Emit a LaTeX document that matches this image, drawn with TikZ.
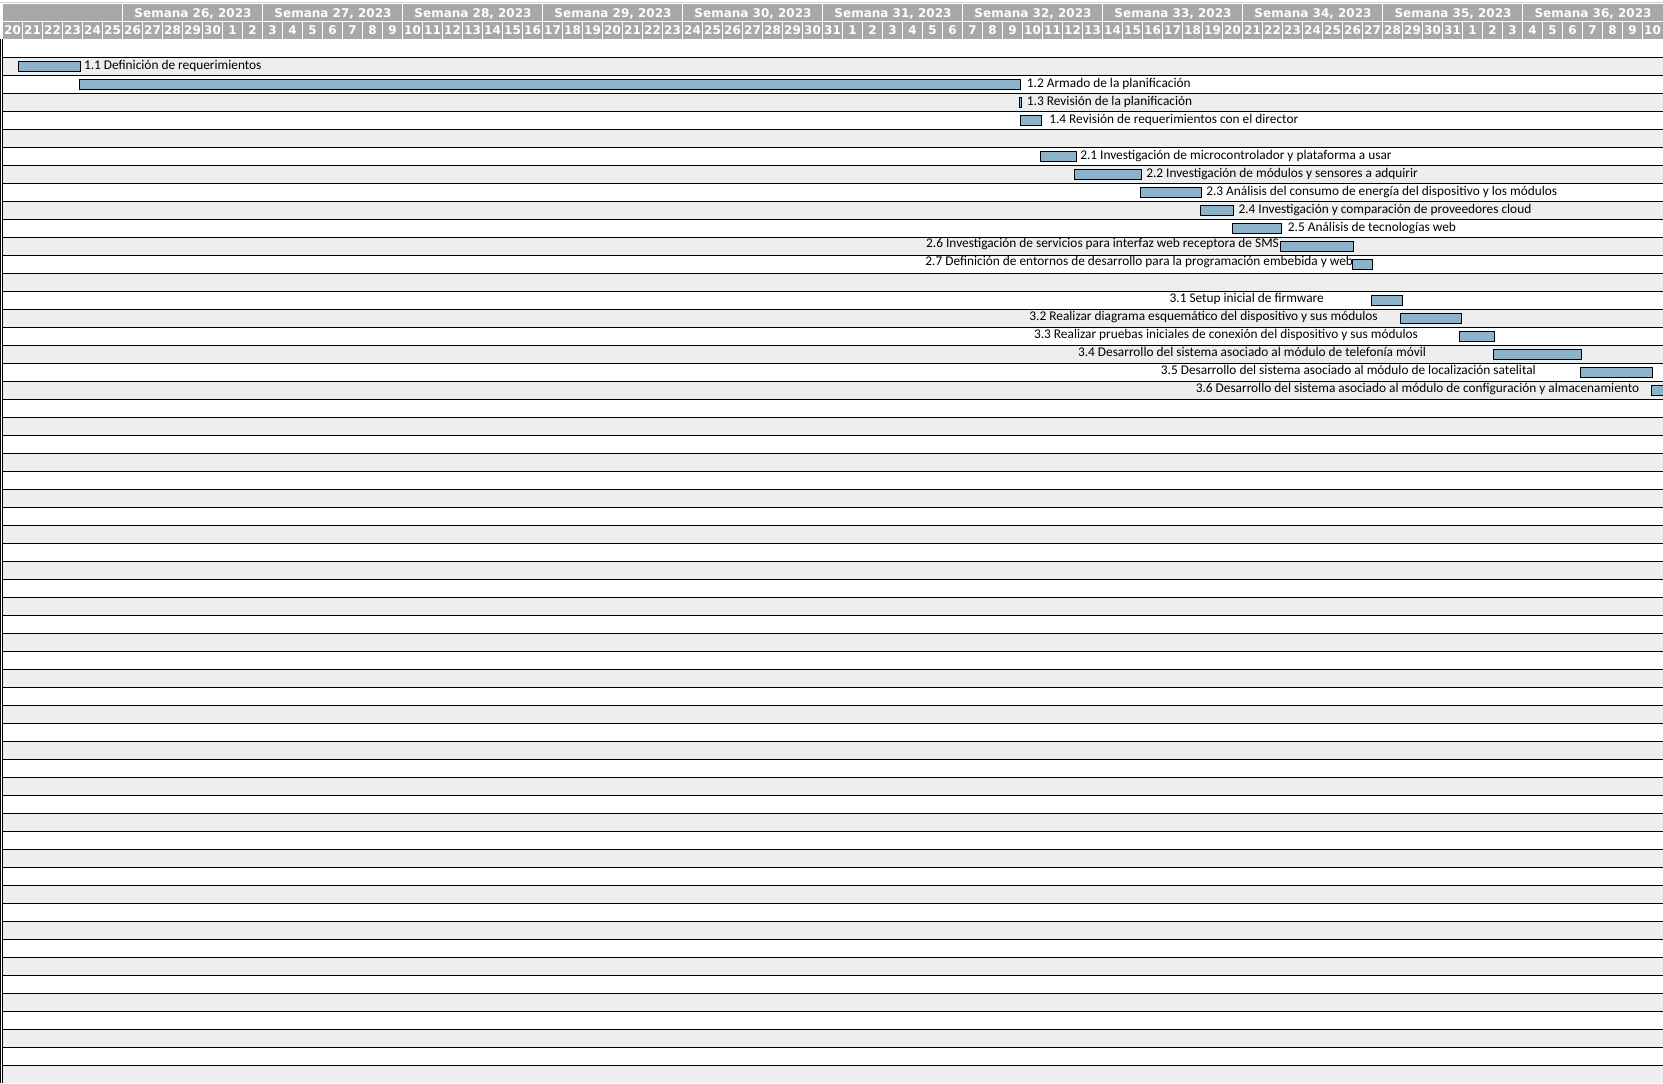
\documentclass[tikz,border=0pt]{standalone}
\usepackage{fontspec}
\setmainfont{Carlito}
\newfontfamily\hdrfont{DejaVu Sans}
\definecolor{rowgray}{HTML}{EEEEEE}
\definecolor{hdrgray}{HTML}{A8A8A8}
\definecolor{toprule}{HTML}{CFCFCF}
\definecolor{barblue}{HTML}{8DB3CB}
\tikzset{
  rowline/.style={draw=black, line width=0.75pt},
  edgeline/.style={draw=black, line width=0.75pt},
  sepline/.style={draw=white, line width=0.8pt},
  wksep/.style={draw=white, line width=1.1pt},
  taskfill/.style={fill=barblue, draw=black, line width=0.75pt},
  lbl/.style={inner sep=0pt, font=\fontsize{10pt}{12pt}\selectfont, text=black},
  daylbl/.style={inner sep=0pt, anchor=base, text=white,
    font=\hdrfont\bfseries\fontsize{9pt}{10pt}\selectfont},
  wklbl/.style={inner sep=0pt, anchor=base, text=white,
    font=\hdrfont\bfseries\fontsize{9pt}{10pt}\selectfont},
}
% one task bar in row #1, from x=#2 to x=#3 (pixel units)
\newcommand\taskbar[3]{%
  \path[taskfill] (#2,{61.3+18*#1}) rectangle (#3,{71.3+18*#1});}
\begin{document}
\begin{tikzpicture}[x=0.75pt,y=-0.75pt]
\useasboundingbox (0,0) rectangle (1663,1083);
\clip (0,0) rectangle (1663,1083);

% alternating row background
\foreach \j in {1,3,...,57}
  \fill[rowgray] (3,{39.3+18*\j}) rectangle (1663,{57.3+18*\j});
% row separators
\foreach \k in {0,...,56}
  \draw[rowline] (3,{57.3+18*\k}) -- (1663,{57.3+18*\k});
% double rule on the left edge
\draw[edgeline] (0.4,39) -- (0.4,1083);
\draw[edgeline] (2.5,39) -- (2.5,1083);

% header
\draw[toprule, line width=0.6pt] (0,2.3) -- (1663,2.3);
\fill[hdrgray] (3,4) rectangle (1663,20.5);
\fill[hdrgray] (3,22) rectangle (1663,39);
\foreach \d in {6,13,...,76}
  \draw[wksep] ({2.5+20*\d},4) -- ({2.5+20*\d},20.5);
\foreach \i in {1,...,82}
  \draw[sepline] ({2.5+20*\i},22) -- ({2.5+20*\i},39);
\foreach \w [count=\c from 0] in {26,...,36}
  \node[wklbl] (wk\w) at ({193+140*\c},17) {Semana \w, 2023};
\foreach \n in {20,...,30}
  \node[daylbl] (jun\n) at ({12.5+20*(\n-20)},34.8) {\n};
\foreach \n in {1,...,31}
  \node[daylbl] (jul\n) at ({12.5+20*(10+\n)},34.8) {\n};
\foreach \n in {1,...,31}
  \node[daylbl] (aug\n) at ({12.5+20*(41+\n)},34.8) {\n};
\foreach \n in {1,...,10}
  \node[daylbl] (sep\n) at ({12.5+20*(72+\n)},34.8) {\n};

% task bars
\taskbar{0}{18.3}{80}
\taskbar{1}{79.3}{1020.3}
\taskbar{2}{1019.5}{1021.7}
\taskbar{3}{1020.5}{1041.5}
\taskbar{5}{1040}{1076}
\taskbar{6}{1074}{1141.7}
\taskbar{7}{1140.7}{1201.7}
\taskbar{8}{1200}{1233.3}
\taskbar{9}{1232.3}{1281}
\taskbar{10}{1280}{1353.3}
\taskbar{11}{1352.7}{1372.7}
\taskbar{13}{1371}{1402.2}
\taskbar{14}{1400.2}{1461}
\taskbar{15}{1459.6}{1494.6}
\taskbar{16}{1493.2}{1581.3}
\taskbar{17}{1580.3}{1652.8}
\taskbar{18}{1651.8}{1670}

% task labels
\node[lbl, anchor=base west] (t11) at (83.8,69.3) {1.1 Definición de requerimientos};
\node[lbl, anchor=base west] (t12) at (1026.7,87.3) {1.2 Armado de la planificación};
\node[lbl, anchor=base west] (t13) at (1026.7,105.3) {1.3 Revisión de la planificación};
\node[lbl, anchor=base west] (t14) at (1049,123.3) {1.4 Revisión de requerimientos con el director};
\node[lbl, anchor=base west] (t21) at (1080,159.3) {2.1 Investigación de microcontrolador y plataforma a usar};
\node[lbl, anchor=base west] (t22) at (1146,177.3) {2.2 Investigación de módulos y sensores a adquirir};
\node[lbl, anchor=base west] (t23) at (1206,195.3) {2.3 Análisis del consumo de energía del dispositivo y los módulos};
\node[lbl, anchor=base west] (t24) at (1238.3,213.3) {2.4 Investigación y comparación de proveedores cloud};
\node[lbl, anchor=base west] (t25) at (1287.7,231.3) {2.5 Análisis de tecnologías web};
\node[lbl, anchor=base] (t26) at (1102.5,247.5) {2.6 Investigación de servicios para interfaz web receptora de SMS};
\node[lbl, anchor=base] (t27) at (1139.2,265.8) {2.7 Definición de entornos de desarrollo para la programación embebida y web};
\node[lbl, anchor=base] (t31) at (1246.7,302.3) {3.1 Setup inicial de firmware};
\node[lbl, anchor=base] (t32) at (1203.6,320.3) {3.2 Realizar diagrama esquemático del dispositivo y sus módulos};
\node[lbl, anchor=base] (t33) at (1226,338.3) {3.3 Realizar pruebas iniciales de conexión del dispositivo y sus módulos};
\node[lbl, anchor=base] (t34) at (1252,356.3) {3.4 Desarrollo del sistema asociado al módulo de telefonía móvil};
\node[lbl, anchor=base] (t35) at (1348.4,374.3) {3.5 Desarrollo del sistema asociado al módulo de localización satelital};
\node[lbl, anchor=base] (t36) at (1417.5,392.3) {3.6 Desarrollo del sistema asociado al módulo de configuración y almacenamiento};
\end{tikzpicture}
\end{document}
